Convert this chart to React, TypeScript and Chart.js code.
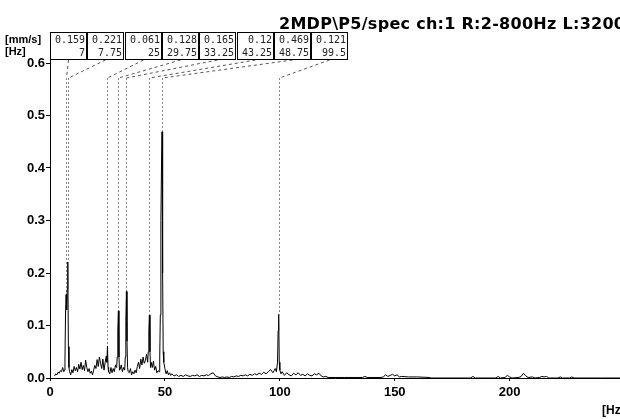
import React, { useEffect, useRef } from "react";
import { Chart, registerables } from "chart.js";

Chart.register(...registerables);

// Spectrum (frequency in Hz, amplitude in mm/s)
const freqs = [
  2, 2.5, 3, 3.5, 4, 4.5, 5, 5.5, 6, 6.25, 6.5, 6.75, 7, 7.25, 7.5, 7.75, 8, 8.25, 8.5, 9, 9.5, 10, 10.5, 11, 11.5, 12, 12.5, 13, 13.5,
  14, 14.5, 15, 15.5, 16, 16.5, 17, 17.5, 18, 18.5, 19, 19.5, 20, 20.5, 21, 21.5, 22, 22.5, 23, 23.5, 24, 24.5, 24.75, 25, 25.25, 25.5,
  26, 26.5, 27, 27.5, 28, 28.5, 29, 29.25, 29.5, 29.75, 30, 30.25, 30.5, 31, 31.5, 32, 32.5, 32.75, 33, 33.25, 33.5, 33.75, 34, 34.5,
  35, 35.5, 36, 36.5, 37, 37.5, 38, 38.5, 39, 39.5, 40, 40.5, 41, 41.5, 42, 42.5, 42.75, 43, 43.25, 43.5, 43.75, 44, 44.5, 45, 45.5,
  46, 46.5, 47, 47.5, 47.75, 48, 48.25, 48.5, 48.75, 49, 49.25, 49.5, 50,
  50.5, 51, 51.5, 52, 52.5, 53, 54, 55, 56, 57, 58, 59, 60, 61, 62, 63, 64, 65, 66, 67, 68, 69, 70, 71, 72, 73, 74, 75, 76, 77, 78, 79, 80,
  81, 82, 83, 84, 85, 86, 87, 88, 89, 90, 91, 92, 93, 94, 95, 96, 97, 98, 98.5, 99, 99.25, 99.5, 99.75, 100, 100.5, 101, 102, 103, 104, 105,
  106, 107, 108, 109, 110, 111, 112, 113, 114, 115, 116, 117, 118, 119, 120, 121, 128, 136, 137, 138, 144, 145, 146, 147, 148, 149, 150, 151,
  152, 153, 156, 160, 165, 166, 183, 184, 185, 194, 195, 196, 198, 199, 200, 201, 204, 205, 206, 207, 208, 210, 211, 213, 214, 215, 216,
  217, 221, 222, 223, 226, 227, 228, 240, 248,
];
const amps = [
  0.004, 0.008, 0.006, 0.011, 0.009, 0.014, 0.012, 0.02, 0.012, 0.015, 0.03, 0.12, 0.159, 0.13, 0.17, 0.221, 0.06, 0.02, 0.012, 0.006,
  0.016, 0.01, 0.022, 0.014, 0.02, 0.012, 0.026, 0.017, 0.03,
  0.016, 0.024, 0.014, 0.034, 0.02, 0.012, 0.018, 0.009, 0.013, 0.006, 0.015, 0.024, 0.018, 0.035, 0.022, 0.04, 0.028, 0.018, 0.036,
  0.015, 0.03, 0.042, 0.03, 0.061, 0.02, 0.012,
  0.008, 0.02, 0.01, 0.018, 0.012, 0.025, 0.02, 0.04, 0.09, 0.128, 0.04, 0.015, 0.016, 0.025, 0.012, 0.02, 0.015, 0.04, 0.11, 0.165,
  0.07, 0.02, 0.012, 0.01,
  0.018, 0.006, 0.012, 0.008, 0.015, 0.01, 0.022, 0.03, 0.018, 0.036, 0.025, 0.04, 0.028, 0.033, 0.045, 0.03, 0.05, 0.09, 0.12, 0.05,
  0.02, 0.03, 0.02, 0.032, 0.015,
  0.022, 0.01, 0.014, 0.012, 0.04, 0.12, 0.3, 0.4, 0.469, 0.2, 0.05, 0.03, 0.018,
  0.008, 0.014, 0.006, 0.01, 0.005, 0.008, 0.004, 0.006, 0.003, 0.005, 0.003, 0.006, 0.004,
  0.003, 0.005, 0.004, 0.006, 0.003, 0.005, 0.004, 0.006, 0.005, 0.008, 0.01, 0.004, 0.002, 0.001, 0.002, 0.001, 0.002, 0.001, 0.003, 0.002,
  0.004, 0.003, 0.005, 0.004, 0.006, 0.004, 0.007, 0.005, 0.008, 0.006, 0.009, 0.007, 0.011, 0.008, 0.012, 0.016, 0.01, 0.018, 0.012, 0.03,
  0.09, 0.121, 0.03, 0.015, 0.008, 0.012, 0.005, 0.01, 0.006, 0.004, 0.009, 0.006, 0.01, 0.005, 0.007, 0.004, 0.008, 0.005, 0.004, 0.008,
  0.006, 0.009, 0.004, 0.002, 0.003, 0.001, 0.001, 0.001, 0.003, 0.001, 0.001, 0.002, 0.006, 0.003, 0.005, 0.007, 0.004, 0.006, 0.002,
  0.003, 0.002, 0.002, 0.001, 0, 0, 0.003, 0, 0, 0.003, 0, 0.001, 0.005, 0.002, 0, 0.001, 0.003, 0.009, 0.004, 0.001, 0.002, 0, 0.001,
  0.003, 0.002, 0.003, 0, 0, 0.002, 0, 0, 0.002, 0, 0, 0,
];

// Axis ticks
const xTicks = [0, 50, 100, 150, 200];
const yTicks = [0, 0.1, 0.2, 0.3, 0.4, 0.5, 0.6];

// Marked peaks
const peakFreqs = [7, 7.75, 25, 29.75, 33.25, 43.25, 48.75, 99.5];
const peakAmps = [0.159, 0.221, 0.061, 0.128, 0.165, 0.12, 0.469, 0.121];
const peakAmpLabels = ["0.159", "0.221", "0.061", "0.128", "0.165", "0.12", "0.469", "0.121"];
const peakFreqLabels = ["7", "7.75", "25", "29.75", "33.25", "43.25", "48.75", "99.5"];

const titleText = "2MDP\\P5/spec ch:1 R:2-800Hz L:3200";
const yUnit = "[mm/s]";
const xUnitTop = "[Hz]";
const xUnitBottom = "[Hz]";

const SANS = '"Liberation Sans", Arial, sans-serif';

const overlayPlugin = {
  id: "overlay",
  beforeDatasetsDraw(chart: any) {
    const ctx = chart.ctx;
    const xs = chart.scales.x;
    const ys = chart.scales.y;
    ctx.save();
    peakFreqs.forEach((f, i) => {
      const px = Math.round(xs.getPixelForValue(f)) + 0.5;
      const py = ys.getPixelForValue(peakAmps[i]);
      const boxLeft = 50 + i * 37.3;
      const bx = Math.round(boxLeft + 18) + 0.5;
      const bendY = 78;
      ctx.strokeStyle = "#555";
      ctx.lineWidth = 1;
      ctx.setLineDash([3, 3]);
      ctx.beginPath();
      ctx.moveTo(bx, 60);
      ctx.lineTo(px, bendY);
      ctx.stroke();
      ctx.strokeStyle = "#888";
      ctx.setLineDash([2, 2]);
      ctx.beginPath();
      ctx.moveTo(px, bendY);
      ctx.lineTo(px, py);
      ctx.stroke();
    });
    ctx.restore();
  },
  afterDraw(chart: any) {
    const ctx = chart.ctx;
    const area = chart.chartArea;
    ctx.save();
    ctx.strokeStyle = "#000";
    ctx.lineWidth = 1;
    ctx.setLineDash([]);
    ctx.beginPath();
    ctx.moveTo(area.left + 0.5, 60);
    ctx.lineTo(area.left + 0.5, area.top);
    ctx.stroke();

    // title, fitted to the reference width
    ctx.fillStyle = "#000";
    ctx.font = 'bold 16px "DejaVu Sans", sans-serif';
    ctx.textAlign = "left";
    ctx.textBaseline = "alphabetic";
    const natural = ctx.measureText(titleText).width;
    const target = 346;
    const spacing = (target - natural) / (titleText.length - 1);
    (ctx as any).letterSpacing = `${spacing.toFixed(2)}px`;
    ctx.fillText(titleText, 279, 29);
    (ctx as any).letterSpacing = "0px";

    ctx.font = `bold 11px ${SANS}`;
    ctx.fillText(yUnit, 5, 43);
    ctx.fillText(xUnitTop, 5, 55);
    ctx.font = `bold 12px ${SANS}`;
    ctx.fillText(xUnitBottom, 602, 414);

    ctx.font = '10px "DejaVu Sans Mono", monospace';
    ctx.textAlign = "right";
    peakFreqs.forEach((_, i) => {
      const left = Math.round(50 + i * 37.3);
      const w = 36;
      ctx.fillStyle = "#fff";
      ctx.fillRect(left, 32, w, 28);
      ctx.strokeStyle = "#000";
      ctx.strokeRect(left + 0.5, 32.5, w, 27);
      ctx.fillStyle = "#222";
      ctx.fillText(peakAmpLabels[i], left + w - 1, 43);
      ctx.fillText(peakFreqLabels[i], left + w - 1, 56);
    });
    ctx.restore();
  },
};

export default function App() {
  const ref = useRef<HTMLCanvasElement>(null);
  useEffect(() => {
    if (!ref.current) return;
    const chart = new Chart(ref.current, {
      type: "line",
      data: {
        datasets: [
          {
            data: freqs.map((f, i) => ({ x: f, y: amps[i] })),
            borderColor: "#000",
            borderWidth: 1,
            pointRadius: 0,
            tension: 0,
            fill: false,
          },
        ],
      },
      options: {
        responsive: false,
        animation: false,
        devicePixelRatio: 1,
        layout: { padding: { top: 63, left: 0, right: 0, bottom: 0 } },
        plugins: { legend: { display: false }, tooltip: { enabled: false } },
        scales: {
          x: {
            type: "linear",
            min: 0,
            max: 248,
            afterBuildTicks: (s: any) => {
              s.ticks = xTicks.map((v) => ({ value: v }));
            },
            afterFit: (s: any) => {
              s.height = 41;
            },
            ticks: {
              autoSkip: false,
              maxRotation: 0,
              color: "#000",
              font: { family: SANS, size: 13, weight: "bold" },
              padding: 4,
            },
            grid: { drawOnChartArea: false, drawTicks: true, tickLength: 3, color: "#000" },
            border: { color: "#000", width: 1 },
          },
          y: {
            min: 0,
            max: 0.6,
            afterBuildTicks: (s: any) => {
              s.ticks = yTicks.map((v) => ({ value: v }));
            },
            afterFit: (s: any) => {
              s.width = 50;
            },
            ticks: {
              color: "#000",
              font: { family: SANS, size: 13, weight: "bold" },
              padding: 1,
              callback: (v: any) => Number(v).toFixed(1),
            },
            grid: { drawOnChartArea: false, drawTicks: true, tickLength: 4, color: "#000" },
            border: { color: "#000", width: 1 },
          },
        },
      },
      plugins: [overlayPlugin],
    });
    return () => chart.destroy();
  }, []);
  return (
    <div style={{ position: "absolute", left: 0, top: 0, width: 620, height: 419, background: "#fff" }}>
      <canvas ref={ref} width={620} height={419} />
    </div>
  );
}
